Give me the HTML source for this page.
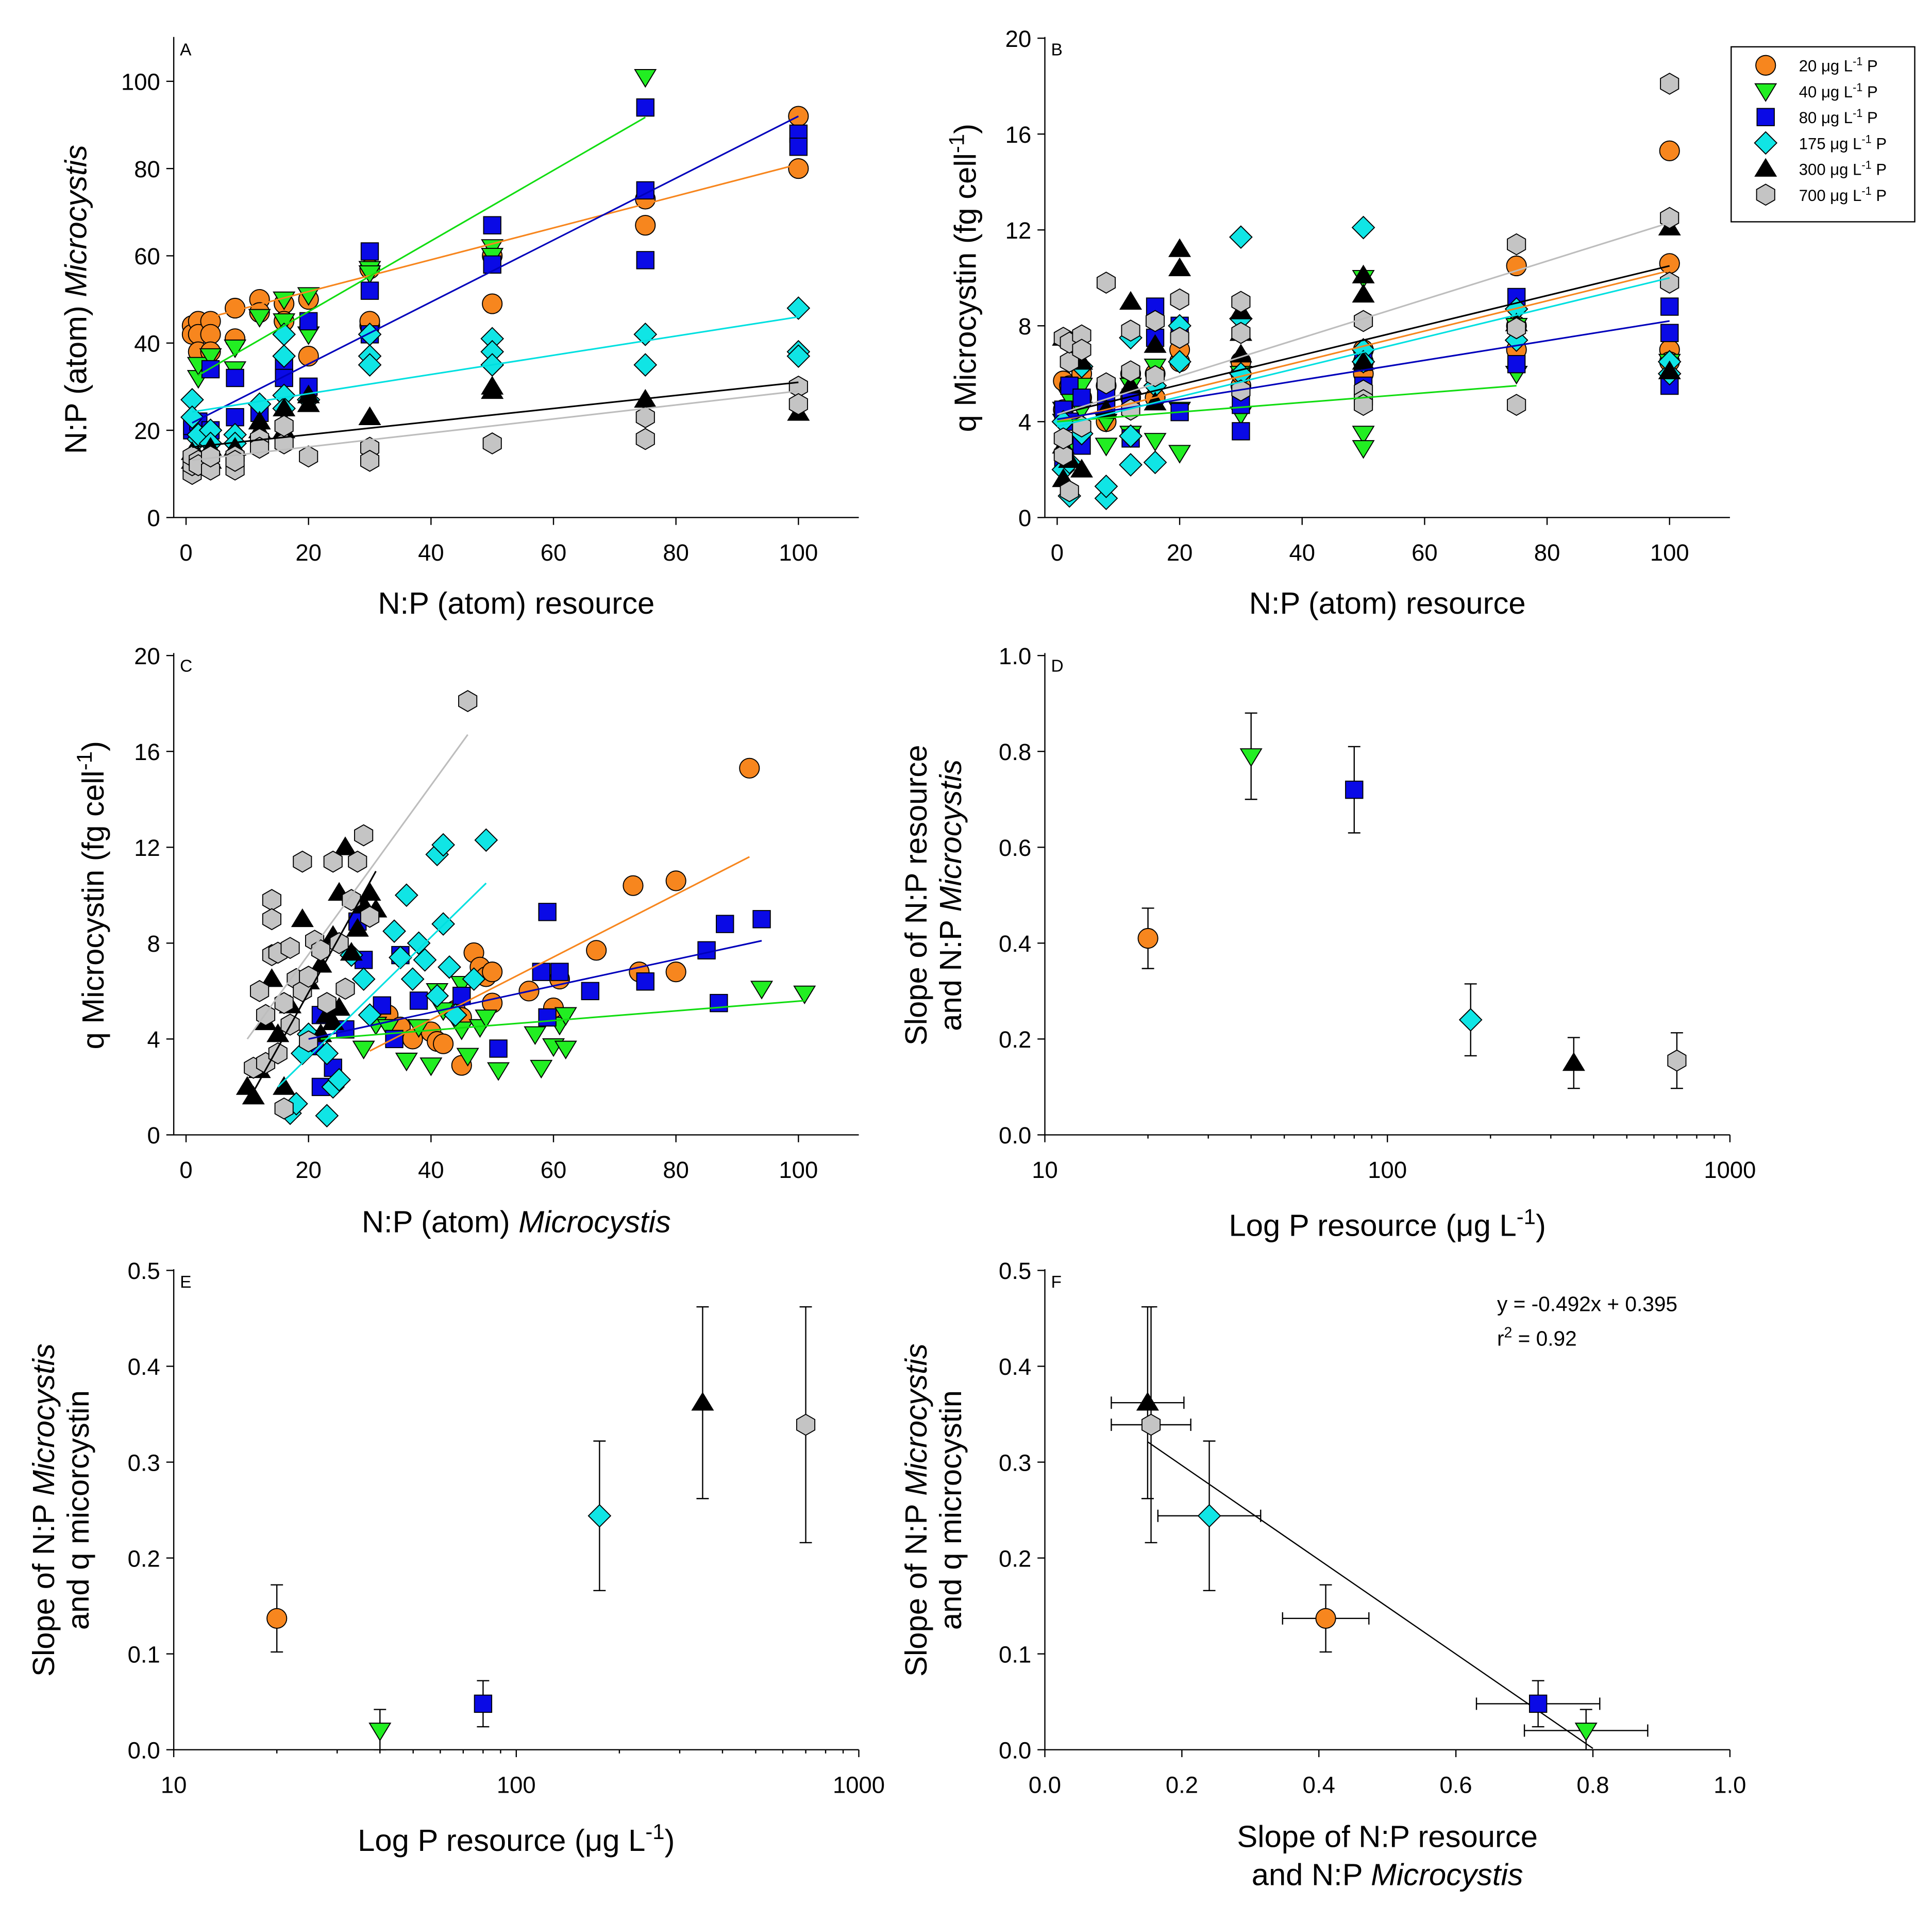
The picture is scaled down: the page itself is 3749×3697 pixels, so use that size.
<!DOCTYPE html>
<html><head><meta charset="utf-8">
<style>
html,body{margin:0;padding:0;background:#fff;}
svg{display:block;font-family:"Liberation Sans",Arial,sans-serif;}
</style></head>
<body>
<svg id="fig" width="3749" height="3697" viewBox="0 0 1568 1546" preserveAspectRatio="none" xmlns="http://www.w3.org/2000/svg">
<rect width="1568" height="1546" fill="#fff"/>
</svg>
<script>
// ---------- series metadata ----------
const seriesKeys = ["orange","green","blue","cyan","black","gray"];
const seriesLabels = ["20","40","80","175","300","700"];
const seriesP = [20,40,80,175,350,700];
// ---------- Panel A data (x = N:P resource, y = N:P Microcystis) ----------
const A_orange=[1,44,1,42,2,45,2,42,2,38,4,45,4,42,4,38,8,48,8,41,12,50,12,47,16,49,16,45,20,50,20,37,30,57,30,44,30,45,50,60,50,49,75,73,75,67,100,92,100,80];
const A_green=[2,32,2,35,4,37,8,39,8,34,12,46,16,50,16,45,20,51,20,42,30,57,30,56,50,62,50,60,75,101];
const A_blue=[1,20,1,21,2,22,4,34,4,20,8,32,8,23,12,24,16,35,16,32,20,45,20,30,30,61,30,52,30,42,50,67,50,58,75,94,75,75,75,59,100,88,100,85];
const A_cyan=[1,27,1,23,2,18,2,19,4,20,4,17,8,19,8,17,12,26,16,42,16,37,16,28,16,25,20,27,30,42,30,37,30,35,50,41,50,38,50,35,75,42,75,35,100,48,100,38,100,37];
const A_black=[1,13,1,15,2,14,4,13,4,16,8,16,12,22,12,20,16,25,16,20,20,28,20,26,30,23,50,30,50,29,75,27,100,24];
const A_gray=[1,10,1,12,1,14,2,13,2,12,4,11,4,14,8,11,8,14,8,13,12,18,12,16,16,17,16,21,20,14,30,16,30,13,50,17,75,23,75,18,100,30,100,26];
const A_lineX0=[4,2,1,1,1,1], A_lineX1=[100,75,100,100,100,100];
const A_int=[44.5,31,21,24,16,13], A_slope=[0.365,0.81,0.71,0.22,0.15,0.16];
// ---------- Panel B data (x = N:P resource, y = q microcystin) ----------
const B_orange=[1,5.7,1,4.5,2,5.5,4,6,4,5,8,4,8,5.5,12,5,12,6,16,6,16,5,20,6.5,20,7,30,5.5,30,6,30,6.5,50,6,50,6.5,50,7,75,10.5,75,7,75,8,100,15.3,100,10.6,100,7,100,6.5];
const B_green=[1,4,1,4.5,2,5,2,3,4,4.5,4,5.5,8,3,8,4,12,5.5,12,3.5,16,6.3,16,3.2,20,2.7,20,4.5,30,4.3,30,6,50,3.5,50,2.9,50,10,75,6,75,8,100,6.5];
const B_blue=[1,4.5,1,2.5,2,4,2,5.5,4,5,4,3,8,5,8,4.5,12,3.3,12,5,16,8.8,16,7.5,20,4.4,20,8,30,3.6,30,4.7,50,6.5,50,5.5,75,9.2,75,6.4,100,8.8,100,7.7,100,5.5];
const B_cyan=[1,2,1,4,2,0.9,2,2.3,4,3.5,4,6.3,8,0.8,8,1.3,12,2.2,12,3.4,12,7.5,16,2.3,16,5.5,20,8,20,6.5,30,11.7,30,8.3,30,6,50,12.1,50,7,50,6.5,75,8.7,75,7.4,100,6,100,6.5];
const B_black=[1,7.5,1,1.6,1,3,2,2.4,4,2,4,6.5,8,4.5,12,9,12,5.5,16,4.8,16,7.2,20,11.2,20,10.4,30,8.6,30,7.7,30,6.8,50,10.1,50,9.3,50,6.5,75,8.1,100,6.1,100,12.1];
const B_gray=[1,7.5,1,2.6,1,3.3,2,1.1,2,6.5,2,7.3,4,7.6,4,7,4,3.8,8,9.8,8,5.6,12,7.8,12,6.1,12,4.5,16,5.9,16,8.2,20,9.1,20,7.5,30,9,30,7.7,30,5.3,50,8.2,50,5.3,50,4.9,50,4.7,75,11.4,75,7.9,75,4.7,100,18.1,100,12.5,100,9.8];
const B_lineX0=[0,0,0,0,0,0], B_lineX1=[100,75,100,100,100,100];
const B_int=[4,4,4.1,3.8,4.3,4.3], B_slope=[0.063,0.02,0.041,0.062,0.062,0.08];
// ---------- Panel C data (x = N:P Microcystis, y = q microcystin) ----------
const C_orange=[33,5,35,4.5,37,4,40,4.3,41,3.9,42,3.8,44,5.2,45,2.9,47,7.6,48,7,49,6.6,50,6.8,50,5.5,56,6,60,5.3,61,6.5,67,7.7,73,10.4,74,6.8,80,10.6,80,6.8,92,15.3,45,4.9];
const C_green=[29,3.6,31,4.6,33,4.5,36,3.1,38,4.5,40,2.9,41,6,42,5.2,45,6.3,45,4.4,46,3.3,48,4.5,51,2.7,57,4.2,58,2.8,60,3.7,61,4.6,62,3.6,62,5,94,6.1,101,5.9,49,4.9];
const C_blue=[20,4,21,3.7,22,5,22,2,24,2.8,26,4.4,28,8.9,29,7.3,32,5.4,34,4,35,7.5,38,5.6,45,5.8,51,3.6,58,6.8,59,4.9,61,6.8,59,9.3,66,6,75,6.4,85,7.7,87,5.5,88,8.8,94,9];
const C_cyan=[17,0.9,18,1.3,23,0.8,24,2,25,2.3,19,3.4,20,4.2,23,3.4,27,7.5,29,6.5,30,5,35,7.4,36,10,37,6.5,38,8,39,7.3,41,11.7,42,12.1,42,8.8,43,7,44,5,47,6.5,49,12.3,34,8.5,41,5.8];
const C_black=[10,2,11,1.6,12,2.7,13,4.7,14,6.5,15,4.2,16,2,17,5.4,19,9,20,6.4,22,7.1,23,5,24,8.3,25,10.1,25,5.3,26,12,27,7.6,28,8.6,29,9.6,30,10.1,31,9.4,24,4.7,22,4.2];
const C_gray=[11,2.8,12,6,13,3,14,7.5,14,9.8,14,9,15,3.4,15,7.6,16,5.5,16,1.1,17,7.8,18,6.5,19,11.4,19,6,20,6.6,21,8.1,22,7.7,23,5.5,24,11.4,25,8,26,6.1,27,9.8,28,11.4,29,12.5,30,9.1,46,18.1,13,5,17,4.6,20,3.9];
const C_lineX0=[30,22,20,15,11,10], C_lineX1=[92,101,94,49,31,46];
const C_lineY0=[3.5,4,4,2,1.8,4], C_lineY1=[11.6,5.6,8.1,10.5,11,16.7];
// ---------- Panel D / E / F data ----------
const D_slope=[0.41,0.79,0.72,0.24,0.15,0.155];
const D_err=[0.063,0.09,0.09,0.075,0.053,0.058];
const E_slope=[0.137,0.02,0.048,0.244,0.362,0.339];
const E_err=[0.035,0.022,0.024,0.078,0.1,0.123];
const F_int=0.395, F_slope=-0.492, F_lineX=[0.15,0.8];

// ---------- styles ----------
const fills={orange:"#f7861e",green:"#22ee22",blue:"#0a0ae6",cyan:"#10e5e5",black:"#000000",gray:"#c4c4c4"};
const lineCols={orange:"#f7861e",green:"#11dd11",blue:"#0000bb",cyan:"#00e0e0",black:"#000000",gray:"#bdbdbd"};
const shapes={orange:"circle",green:"tridown",blue:"square",cyan:"diamond",black:"triup",gray:"hex"};
const svg=document.getElementById('fig');
const NS="http://www.w3.org/2000/svg";
function el(tag,attrs,parent){const e=document.createElementNS(NS,tag);for(const k in attrs)e.setAttribute(k,attrs[k]);(parent||svg).appendChild(e);return e;}

function marker(key,cx,cy,g){
  const s=shapes[key],f=fills[key],r=8;let e;
  if(s==="circle")e=el('circle',{cx,cy,r,fill:f,stroke:"#000","stroke-width":0.8},g);
  else if(s==="square")e=el('rect',{x:cx-7,y:cy-7,width:14,height:14,fill:f,stroke:"#000","stroke-width":0.8},g);
  else{
    let p;
    if(s==="tridown")p=[[cx-8.5,cy-6],[cx+8.5,cy-6],[cx,cy+8]];
    else if(s==="triup")p=[[cx-8.5,cy+6],[cx+8.5,cy+6],[cx,cy-8]];
    else if(s==="diamond")p=[[cx,cy-9],[cx+9,cy],[cx,cy+9],[cx-9,cy]];
    else{p=[];for(let i=0;i<6;i++){const a=Math.PI/6+i*Math.PI/3;p.push([cx+8.5*Math.cos(a),cy+8.5*Math.sin(a)]);}}
    e=el('polygon',{points:p.map(q=>q.join(',')).join(' '),fill:f,stroke:"#000","stroke-width":0.8},g);
  }
  
  
  return e;
}
function text(str,x,y,size,opts,parent){
  const t=el('text',Object.assign({x,y,"font-size":size,fill:"#000"},opts||{}),parent);
  t.innerHTML=str;return t;
}

function makePanel(cfg){
  const g=el('g',{});
  
  
  const xs=cfg.log?(v=>cfg.px0+(Math.log10(v)-Math.log10(cfg.xd[0]))/(Math.log10(cfg.xd[1])-Math.log10(cfg.xd[0]))*(cfg.px1-cfg.px0))
                  :(v=>cfg.px0+(v-cfg.xd[0])/(cfg.xd[1]-cfg.xd[0])*(cfg.px1-cfg.px0));
  const ys=v=>cfg.py0+(v-cfg.yd[0])/(cfg.yd[1]-cfg.yd[0])*(cfg.py1-cfg.py0);
  const ax=el('path',{d:`M${cfg.fl},${cfg.ft} L${cfg.fl},${cfg.py0} L${cfg.fr},${cfg.py0}`,fill:"none",stroke:"#000","stroke-width":1},g);
  
  
  cfg.xt.forEach((v,i)=>{
    const x=xs(v);
    el('line',{x1:x,y1:cfg.py0,x2:x,y2:cfg.py0+6,stroke:"#000","stroke-width":1},g);
    const t=text(cfg.xtl[i],x,cfg.py0+35,19,{"text-anchor":"middle"},g);
    
    
  });
  if(cfg.log){
    [20,30,40,50,60,70,80,90,200,300,400,500,600,700,800,900].forEach(v=>{
      const x=xs(v);el('line',{x1:x,y1:cfg.py0,x2:x,y2:cfg.py0+3,stroke:"#000","stroke-width":1},g);
    });
  }
  cfg.yt.forEach((v,i)=>{
    const y=ys(v);
    el('line',{x1:cfg.fl-6,y1:y,x2:cfg.fl,y2:y,stroke:"#000","stroke-width":1},g);
    const t=text(cfg.ytl[i],cfg.fl-11,y+7,19,{"text-anchor":"end"},g);
    
    
  });
  const pl=text(cfg.id,cfg.fl+5,cfg.ft+15,14,{},g);
  
  
  cfg.xlab.forEach((L,i)=>{
    const t=text(L,(cfg.fl+cfg.fr)/2,cfg.xly+i*31,25,{"text-anchor":"middle"},g);
    
    
  });
  const cy=(cfg.py0+cfg.py1)/2;
  cfg.ylab.forEach((L,i)=>{
    const x=cfg.ylx+i*28;
    const t=text(L,x,cy,25,{"text-anchor":"middle",transform:`rotate(-90 ${x} ${cy})`},g);
    
    
  });
  return {g,xs,ys};
}
const sup=s=>`<tspan baseline-shift="super" font-size="70%">${s}</tspan>`;

// ---------- Panel A ----------
(function(){
  const P=makePanel({id:"A",ft:30,px0:151,px1:648,xd:[0,100],py0:420,py1:66,yd:[0,100],fl:141,fr:697,
    xt:[0,20,40,60,80,100],xtl:["0","20","40","60","80","100"],yt:[0,20,40,60,80,100],ytl:["0","20","40","60","80","100"],
    xlab:["N:P (atom) resource"],xly:498,ylab:["N:P (atom) <tspan font-style='italic'>Microcystis</tspan>"],ylx:70});
  const data=[A_orange,A_green,A_blue,A_cyan,A_black,A_gray];
  seriesKeys.forEach((k,i)=>{
    const d=data[i];
    for(let j=0;j<d.length;j+=2)marker(k,P.xs(d[j]),P.ys(d[j+1]),P.g);
  });
  seriesKeys.forEach((k,i)=>{
    const l=el('line',{x1:P.xs(A_lineX0[i]),y1:P.ys(A_int[i]+A_slope[i]*A_lineX0[i]),x2:P.xs(A_lineX1[i]),y2:P.ys(A_int[i]+A_slope[i]*A_lineX1[i]),stroke:lineCols[k],"stroke-width":1.3},P.g);
    
    
  });
})();
// ---------- Panel B ----------
(function(){
  const P=makePanel({id:"B",ft:30,px0:858,px1:1355,xd:[0,100],py0:420,py1:31,yd:[0,20],fl:848,fr:1404,
    xt:[0,20,40,60,80,100],xtl:["0","20","40","60","80","100"],yt:[0,4,8,12,16,20],ytl:["0","4","8","12","16","20"],
    xlab:["N:P (atom) resource"],xly:498,ylab:["q Microcystin (fg cell"+sup("-1")+")"],ylx:792});
  const data=[B_orange,B_green,B_blue,B_cyan,B_black,B_gray];
  seriesKeys.forEach((k,i)=>{
    const d=data[i];
    for(let j=0;j<d.length;j+=2)marker(k,P.xs(d[j]),P.ys(d[j+1]),P.g);
  });
  seriesKeys.forEach((k,i)=>{
    const l=el('line',{x1:P.xs(B_lineX0[i]),y1:P.ys(B_int[i]+B_slope[i]*B_lineX0[i]),x2:P.xs(B_lineX1[i]),y2:P.ys(B_int[i]+B_slope[i]*B_lineX1[i]),stroke:lineCols[k],"stroke-width":1.3},P.g);
    
    
  });
  const lg=el('g',{});
  
  
  el('rect',{x:1405,y:38,width:149,height:142,fill:"#fff",stroke:"#000","stroke-width":1},lg);
  seriesKeys.forEach((k,i)=>{
    const y=53+i*21;
    marker(k,1433,y,lg);
    const t=text(seriesLabels[i]+" &#956;g L"+sup("-1")+" P",1460,y+5,13,{},lg);
    
    
  });
})();
// ---------- Panel C ----------
(function(){
  const P=makePanel({id:"C",ft:530,px0:151,px1:648,xd:[0,100],py0:921,py1:532,yd:[0,20],fl:141,fr:697,
    xt:[0,20,40,60,80,100],xtl:["0","20","40","60","80","100"],yt:[0,4,8,12,16,20],ytl:["0","4","8","12","16","20"],
    xlab:["N:P (atom) <tspan font-style='italic'>Microcystis</tspan>"],xly:1000,ylab:["q Microcystin (fg cell"+sup("-1")+")"],ylx:84});
  const data=[C_orange,C_green,C_blue,C_cyan,C_black,C_gray];
  seriesKeys.forEach((k,i)=>{
    const d=data[i];
    for(let j=0;j<d.length;j+=2)marker(k,P.xs(d[j]),P.ys(d[j+1]),P.g);
  });
  seriesKeys.forEach((k,i)=>{
    const l=el('line',{x1:P.xs(C_lineX0[i]),y1:P.ys(C_lineY0[i]),x2:P.xs(C_lineX1[i]),y2:P.ys(C_lineY1[i]),stroke:lineCols[k],"stroke-width":1.3},P.g);
    
    
  });
})();
function errPanel(P,xv,yv,ye,xe){
  seriesKeys.forEach((k,i)=>{
    const x=P.xs(xv[i]),y=P.ys(yv[i]);
    const eb=el('g',{},P.g);
    
    
    const yt=P.ys(yv[i]+ye[i]),yb=P.ys(Math.max(0,yv[i]-ye[i]));
    el('line',{x1:x,y1:yt,x2:x,y2:yb,stroke:"#000","stroke-width":1},eb);
    el('line',{x1:x-5,y1:yt,x2:x+5,y2:yt,stroke:"#000","stroke-width":1},eb);
    el('line',{x1:x-5,y1:yb,x2:x+5,y2:yb,stroke:"#000","stroke-width":1},eb);
    if(xe){
      const xl=P.xs(xv[i]-xe[i]),xr=P.xs(xv[i]+xe[i]);
      el('line',{x1:xl,y1:y,x2:xr,y2:y,stroke:"#000","stroke-width":1},eb);
      el('line',{x1:xl,y1:y-5,x2:xl,y2:y+5,stroke:"#000","stroke-width":1},eb);
      el('line',{x1:xr,y1:y-5,x2:xr,y2:y+5,stroke:"#000","stroke-width":1},eb);
    }
  });
  seriesKeys.forEach((k,i)=>marker(k,P.xs(xv[i]),P.ys(yv[i]),P.g));
}
// ---------- Panel D ----------
(function(){
  const P=makePanel({id:"D",ft:530,log:true,px0:848,px1:1404,xd:[10,1000],py0:921,py1:532,yd:[0,1],fl:848,fr:1404,
    xt:[10,100,1000],xtl:["10","100","1000"],yt:[0,0.2,0.4,0.6,0.8,1.0],ytl:["0.0","0.2","0.4","0.6","0.8","1.0"],
    xlab:["Log P resource (&#956;g L"+sup("-1")+")"],xly:1003,ylab:["Slope of N:P resource","and N:P <tspan font-style='italic'>Microcystis</tspan>"],ylx:752});
  errPanel(P,seriesP,D_slope,D_err,null);
})();
// ---------- Panel E ----------
(function(){
  const P=makePanel({id:"E",ft:1030,log:true,px0:141,px1:697,xd:[10,1000],py0:1420,py1:1031,yd:[0,0.5],fl:141,fr:697,
    xt:[10,100,1000],xtl:["10","100","1000"],yt:[0,0.1,0.2,0.3,0.4,0.5],ytl:["0.0","0.1","0.2","0.3","0.4","0.5"],
    xlab:["Log P resource (&#956;g L"+sup("-1")+")"],xly:1502,ylab:["Slope of N:P <tspan font-style='italic'>Microcystis</tspan>","and q micorcystin"],ylx:44});
  errPanel(P,seriesP,E_slope,E_err,null);
})();
// ---------- Panel F ----------
(function(){
  const P=makePanel({id:"F",ft:1030,px0:848,px1:1404,xd:[0,1],py0:1420,py1:1031,yd:[0,0.5],fl:848,fr:1404,
    xt:[0,0.2,0.4,0.6,0.8,1.0],xtl:["0.0","0.2","0.4","0.6","0.8","1.0"],yt:[0,0.1,0.2,0.3,0.4,0.5],ytl:["0.0","0.1","0.2","0.3","0.4","0.5"],
    xlab:["Slope of N:P resource","and N:P <tspan font-style='italic'>Microcystis</tspan>"],xly:1499,ylab:["Slope of N:P <tspan font-style='italic'>Microcystis</tspan>","and q microcystin"],ylx:752});
  const l=el('line',{x1:P.xs(F_lineX[0]),y1:P.ys(F_int+F_slope*F_lineX[0]),x2:P.xs(F_lineX[1]),y2:P.ys(F_int+F_slope*F_lineX[1]),stroke:"#000","stroke-width":1},P.g);
  
  
  errPanel(P,D_slope,E_slope,E_err,D_err);
  const t1=text("y = -0.492x + 0.395",1215,1064,17,{},P.g);
  
  
  const t2=text("r"+sup("2")+" = 0.92",1215,1092,17,{},P.g);
  
  
})();
</script>
</body></html>
